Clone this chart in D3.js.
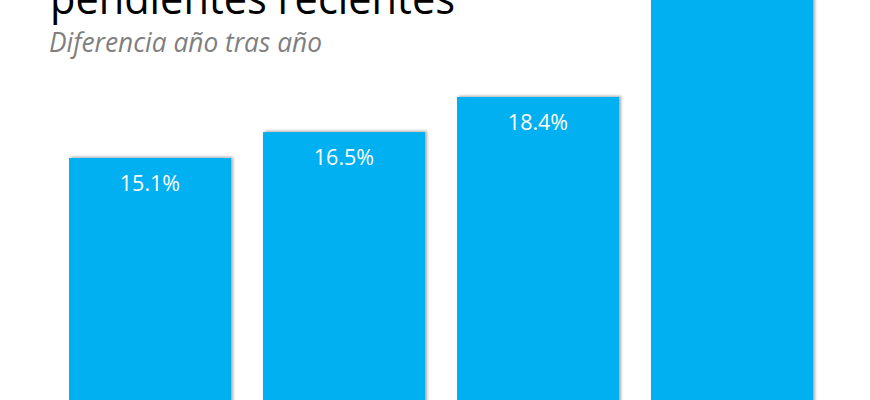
<!DOCTYPE html>
<html>
<head>
<meta charset="utf-8">
<script src="https://cdn.jsdelivr.net/npm/d3@7"></script>
<style>
  html, body { margin: 0; padding: 0; background: #ffffff; }
  svg { display: block; }
</style>
</head>
<body>
<div id="chart"></div>
<script>
// ---- Data ----
const categories = ["Periodo 1", "Periodo 2", "Periodo 3", "Periodo 4"];
const values = [15.1, 16.5, 18.4, 27.5];
const valueLabels = ["15.1%", "16.5%", "18.4%", "27.5%"];
const titleText = "pendientes recientes";
const subtitleText = "Diferencia año tras año";

// ---- Layout ----
const W = 870, H = 400;
const svg = d3.select("#chart").append("svg")
  .attr("width", W).attr("height", H)
  .attr("viewBox", `0 0 ${W} ${H}`);

const defs = svg.append("defs");
const f = defs.append("filter").attr("id", "shadow")
  .attr("x", "-10%").attr("y", "-10%").attr("width", "120%").attr("height", "120%");
f.append("feDropShadow")
  .attr("dx", 2).attr("dy", -1).attr("stdDeviation", 1.4)
  .attr("flood-color", "#6e6e6e").attr("flood-opacity", 0.6);

const x = d3.scaleBand()
  .domain(categories)
  .range([69, 813])
  .paddingInner(0.165)
  .paddingOuter(0);

const y = d3.scaleLinear()
  .domain([0, 20])
  .range([437, 437 - 20 * 18.48]);

// Bars
svg.append("g").selectAll("rect")
  .data(categories)
  .join("rect")
  .attr("x", d => x(d))
  .attr("y", (d, i) => y(values[i]))
  .attr("width", x.bandwidth())
  .attr("height", (d, i) => y(0) - y(values[i]))
  .attr("fill", "#00B0F0")
  .attr("filter", "url(#shadow)");

// Value labels
svg.append("g").selectAll("text")
  .data(categories)
  .join("text")
  .attr("x", d => x(d) + x.bandwidth() / 2)
  .attr("y", (d, i) => y(values[i]) + 33)
  .attr("text-anchor", "middle")
  .attr("font-family", "'Open Sans', 'Noto Sans', sans-serif")
  .attr("font-size", 21.5)
  .attr("fill", "#ffffff")
  .text((d, i) => valueLabels[i]);

// Title (cut off at top, as in the reference)
svg.append("text")
  .attr("x", 50)
  .attr("y", 14)
  .attr("font-family", "'Open Sans', 'Noto Sans', sans-serif")
  .attr("font-size", 44)
  .attr("fill", "#000000")
  .attr("textLength", 405)
  .attr("lengthAdjust", "spacingAndGlyphs")
  .text(titleText);

// Subtitle
svg.append("text")
  .attr("x", 49)
  .attr("y", 52)
  .attr("font-family", "'Open Sans', 'Noto Sans', sans-serif")
  .attr("font-style", "italic")
  .attr("font-size", 27)
  .attr("fill", "#7F7F7F")
  .attr("textLength", 273)
  .attr("lengthAdjust", "spacingAndGlyphs")
  .text(subtitleText);
</script>
</body>
</html>
